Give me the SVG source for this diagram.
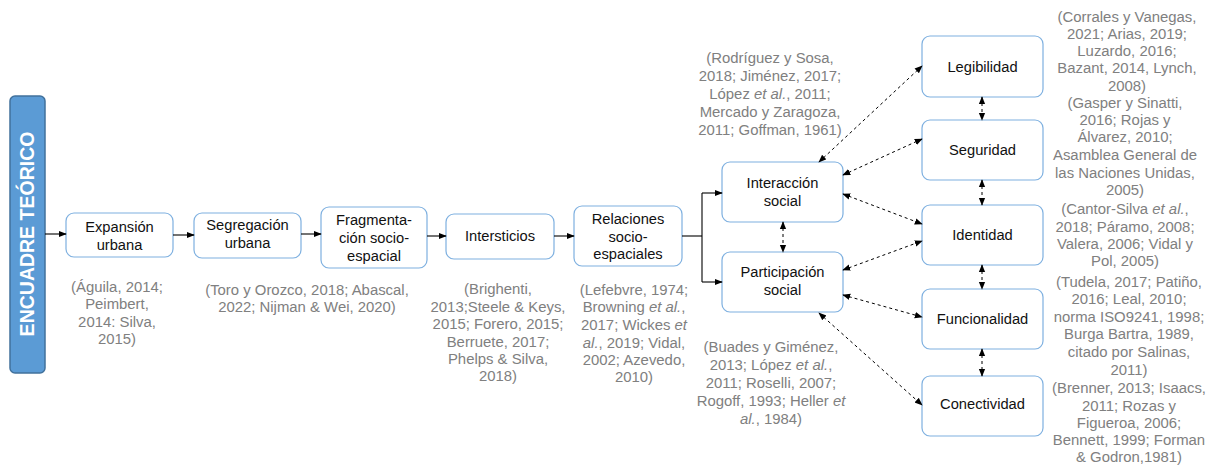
<svg xmlns="http://www.w3.org/2000/svg" width="1212" height="466" viewBox="0 0 1212 466">
  <defs>
    <marker id="arr" viewBox="0 0 10 10" refX="9" refY="5" markerWidth="8" markerHeight="8" markerUnits="userSpaceOnUse" orient="auto-start-reverse">
      <path d="M0,1 L10,5 L0,9 Z" fill="#000"/>
    </marker>
    <style>
      .box { fill: #fff; stroke: #7eb0e0; stroke-width: 1.2; }
      .lbl { font-family: "Liberation Sans", Arial, sans-serif; font-size: 14.7px; fill: #111; text-anchor: middle; }
      .cit { font-family: "Liberation Sans", Arial, sans-serif; font-size: 14.9px; fill: #808080; text-anchor: middle; }
      .it { font-style: italic; }
      .solid { fill: none; stroke: #000; stroke-width: 1.1; }
      .dash { fill: none; stroke: #000; stroke-width: 1; stroke-dasharray: 3 3; }
    </style>
  </defs>
  <rect width="1212" height="466" fill="#fff"/>

  <!-- vertical title bar -->
  <g id="encuadre">
    <rect x="10" y="96" width="35" height="277" rx="5" fill="#5b9bd5" stroke="#41719c" stroke-width="1.5"/>
    <text transform="translate(34,234) rotate(-90)" font-family="Liberation Sans, Arial, sans-serif" font-size="19.5" font-weight="bold" fill="#fff" text-anchor="middle">ENCUADRE TEÓRICO</text>
  </g>

  <!-- main chain -->
  <g id="expansion">
    <rect class="box" x="66" y="213" width="107" height="44" rx="8"/>
    <text class="lbl" x="119.5" y="232">Expansión</text>
    <text class="lbl" x="119.5" y="249.5">urbana</text>
  </g>
  <g id="segregacion">
    <rect class="box" x="194" y="213" width="107" height="45" rx="8"/>
    <text class="lbl" x="247.5" y="230">Segregación</text>
    <text class="lbl" x="247.5" y="248">urbana</text>
  </g>
  <g id="fragmentacion">
    <rect class="box" x="321" y="207" width="106" height="61" rx="8"/>
    <text class="lbl" x="374" y="225">Fragmenta-</text>
    <text class="lbl" x="374" y="243">ción socio-</text>
    <text class="lbl" x="374" y="261">espacial</text>
  </g>
  <g id="intersticios">
    <rect class="box" x="446" y="214" width="108" height="45" rx="8"/>
    <text class="lbl" x="500" y="241">Intersticios</text>
  </g>
  <g id="relaciones">
    <rect class="box" x="574" y="206" width="108" height="60" rx="8"/>
    <text class="lbl" x="628" y="224">Relaciones</text>
    <text class="lbl" x="628" y="242">socio-</text>
    <text class="lbl" x="628" y="259">espaciales</text>
  </g>
  <g id="interaccion">
    <rect class="box" x="722" y="162" width="121" height="60" rx="8"/>
    <text class="lbl" x="782.5" y="188">Interacción</text>
    <text class="lbl" x="782.5" y="206">social</text>
  </g>
  <g id="participacion">
    <rect class="box" x="722" y="252" width="121" height="60" rx="8"/>
    <text class="lbl" x="782.5" y="277">Participación</text>
    <text class="lbl" x="782.5" y="295">social</text>
  </g>

  <!-- dimensions -->
  <g id="legibilidad">
    <rect class="box" x="922" y="36" width="121" height="61" rx="8"/>
    <text class="lbl" x="982.5" y="72">Legibilidad</text>
  </g>
  <g id="seguridad">
    <rect class="box" x="922" y="120" width="121" height="60" rx="8"/>
    <text class="lbl" x="982.5" y="155">Seguridad</text>
  </g>
  <g id="identidad">
    <rect class="box" x="922" y="205" width="121" height="60" rx="8"/>
    <text class="lbl" x="982.5" y="240">Identidad</text>
  </g>
  <g id="funcionalidad">
    <rect class="box" x="922" y="289" width="121" height="60" rx="8"/>
    <text class="lbl" x="982.5" y="324">Funcionalidad</text>
  </g>
  <g id="conectividad">
    <rect class="box" x="922" y="376" width="121" height="60" rx="8"/>
    <text class="lbl" x="982.5" y="409">Conectividad</text>
  </g>

  <!-- connectors -->
  <g id="connectors">
    <line class="solid" x1="45" y1="234" x2="66" y2="234" marker-end="url(#arr)"/>
    <line class="solid" x1="173" y1="235" x2="194" y2="235" marker-end="url(#arr)"/>
    <line class="solid" x1="301" y1="234" x2="321" y2="234" marker-end="url(#arr)"/>
    <line class="solid" x1="427" y1="236" x2="446" y2="236" marker-end="url(#arr)"/>
    <line class="solid" x1="554" y1="236" x2="574" y2="236" marker-end="url(#arr)"/>
    <line class="solid" x1="682" y1="236" x2="702" y2="236"/>
    <line class="solid" x1="702" y1="193" x2="702" y2="282"/>
    <line class="solid" x1="702" y1="193" x2="722" y2="193" marker-end="url(#arr)"/>
    <line class="solid" x1="702" y1="282" x2="722" y2="282" marker-end="url(#arr)"/>

    <line class="dash" x1="783" y1="222" x2="783" y2="252" marker-start="url(#arr)" marker-end="url(#arr)"/>
    <line class="dash" x1="819" y1="162" x2="922" y2="66" marker-start="url(#arr)" marker-end="url(#arr)"/>
    <line class="dash" x1="843" y1="175" x2="922" y2="139" marker-start="url(#arr)" marker-end="url(#arr)"/>
    <line class="dash" x1="843" y1="194" x2="922" y2="224" marker-start="url(#arr)" marker-end="url(#arr)"/>
    <line class="dash" x1="843" y1="270" x2="922" y2="241" marker-start="url(#arr)" marker-end="url(#arr)"/>
    <line class="dash" x1="843" y1="295" x2="922" y2="317" marker-start="url(#arr)" marker-end="url(#arr)"/>
    <line class="dash" x1="819" y1="313" x2="922" y2="405" marker-start="url(#arr)" marker-end="url(#arr)"/>

    <line class="dash" x1="982" y1="97" x2="982" y2="120" marker-start="url(#arr)" marker-end="url(#arr)"/>
    <line class="dash" x1="982" y1="180" x2="982" y2="205" marker-start="url(#arr)" marker-end="url(#arr)"/>
    <line class="dash" x1="982" y1="265" x2="982" y2="289" marker-start="url(#arr)" marker-end="url(#arr)"/>
    <line class="dash" x1="982" y1="349" x2="982" y2="376" marker-start="url(#arr)" marker-end="url(#arr)"/>
  </g>

  <!-- references -->
  <g id="refs-expansion">
    <text class="cit" x="117" y="292">(Águila, 2014;</text>
    <text class="cit" x="117" y="309">Peimbert,</text>
    <text class="cit" x="117" y="327">2014: Silva,</text>
    <text class="cit" x="117" y="344">2015)</text>
  </g>
  <g id="refs-segregacion">
    <text class="cit" x="307" y="295">(Toro y Orozco, 2018; Abascal,</text>
    <text class="cit" x="307" y="312">2022; Nijman &amp; Wei, 2020)</text>
  </g>
  <g id="refs-intersticios">
    <text class="cit" x="498" y="294">(Brighenti,</text>
    <text class="cit" x="498" y="312">2013;Steele &amp; Keys,</text>
    <text class="cit" x="498" y="329">2015; Forero, 2015;</text>
    <text class="cit" x="498" y="347">Berruete, 2017;</text>
    <text class="cit" x="498" y="364">Phelps &amp; Silva,</text>
    <text class="cit" x="498" y="381">2018)</text>
  </g>
  <g id="refs-relaciones">
    <text class="cit" x="634" y="295">(Lefebvre, 1974;</text>
    <text class="cit" x="634" y="312">Browning <tspan class="it">et al.</tspan>,</text>
    <text class="cit" x="634" y="330">2017; Wickes <tspan class="it">et</tspan></text>
    <text class="cit" x="634" y="348"><tspan class="it">al.</tspan>, 2019; Vidal,</text>
    <text class="cit" x="634" y="365">2002; Azevedo,</text>
    <text class="cit" x="634" y="382">2010)</text>
  </g>
  <g id="refs-interaccion">
    <text class="cit" x="770" y="63">(Rodríguez y Sosa,</text>
    <text class="cit" x="770" y="81">2018; Jiménez, 2017;</text>
    <text class="cit" x="770" y="99">López <tspan class="it">et al.</tspan>, 2011;</text>
    <text class="cit" x="770" y="117">Mercado y Zaragoza,</text>
    <text class="cit" x="770" y="135">2011; Goffman, 1961)</text>
  </g>
  <g id="refs-participacion">
    <text class="cit" x="771" y="352">(Buades y Giménez,</text>
    <text class="cit" x="771" y="370">2013; López <tspan class="it">et al.</tspan>,</text>
    <text class="cit" x="771" y="388">2011; Roselli, 2007;</text>
    <text class="cit" x="771" y="406">Rogoff, 1993; Heller <tspan class="it">et</tspan></text>
    <text class="cit" x="771" y="424"><tspan class="it">al.</tspan>, 1984)</text>
  </g>
  <g id="refs-legibilidad">
    <text class="cit" x="1127" y="22">(Corrales y Vanegas,</text>
    <text class="cit" x="1127" y="39">2021; Arias, 2019;</text>
    <text class="cit" x="1127" y="56">Luzardo, 2016;</text>
    <text class="cit" x="1127" y="73">Bazant, 2014, Lynch,</text>
    <text class="cit" x="1127" y="91">2008)</text>
  </g>
  <g id="refs-seguridad">
    <text class="cit" x="1125" y="108">(Gasper y Sinatti,</text>
    <text class="cit" x="1125" y="125">2016; Rojas y</text>
    <text class="cit" x="1125" y="142">Álvarez, 2010;</text>
    <text class="cit" x="1125" y="160">Asamblea General de</text>
    <text class="cit" x="1125" y="178">las Naciones Unidas,</text>
    <text class="cit" x="1125" y="195">2005)</text>
  </g>
  <g id="refs-identidad">
    <text class="cit" x="1125" y="214">(Cantor-Silva <tspan class="it">et al.</tspan>,</text>
    <text class="cit" x="1125" y="232">2018; Páramo, 2008;</text>
    <text class="cit" x="1125" y="249">Valera, 2006; Vidal y</text>
    <text class="cit" x="1125" y="266">Pol, 2005)</text>
  </g>
  <g id="refs-funcionalidad">
    <text class="cit" x="1129" y="287">(Tudela, 2017; Patiño,</text>
    <text class="cit" x="1129" y="304">2016; Leal, 2010;</text>
    <text class="cit" x="1129" y="322">norma ISO9241, 1998;</text>
    <text class="cit" x="1129" y="339">Burga Bartra, 1989,</text>
    <text class="cit" x="1129" y="357">citado por Salinas,</text>
    <text class="cit" x="1129" y="375">2011)</text>
  </g>
  <g id="refs-conectividad">
    <text class="cit" x="1129" y="393">(Brenner, 2013; Isaacs,</text>
    <text class="cit" x="1129" y="411">2011; Rozas y</text>
    <text class="cit" x="1129" y="428">Figueroa, 2006;</text>
    <text class="cit" x="1129" y="445">Bennett, 1999; Forman</text>
    <text class="cit" x="1129" y="462">&amp; Godron,1981)</text>
  </g>
</svg>
